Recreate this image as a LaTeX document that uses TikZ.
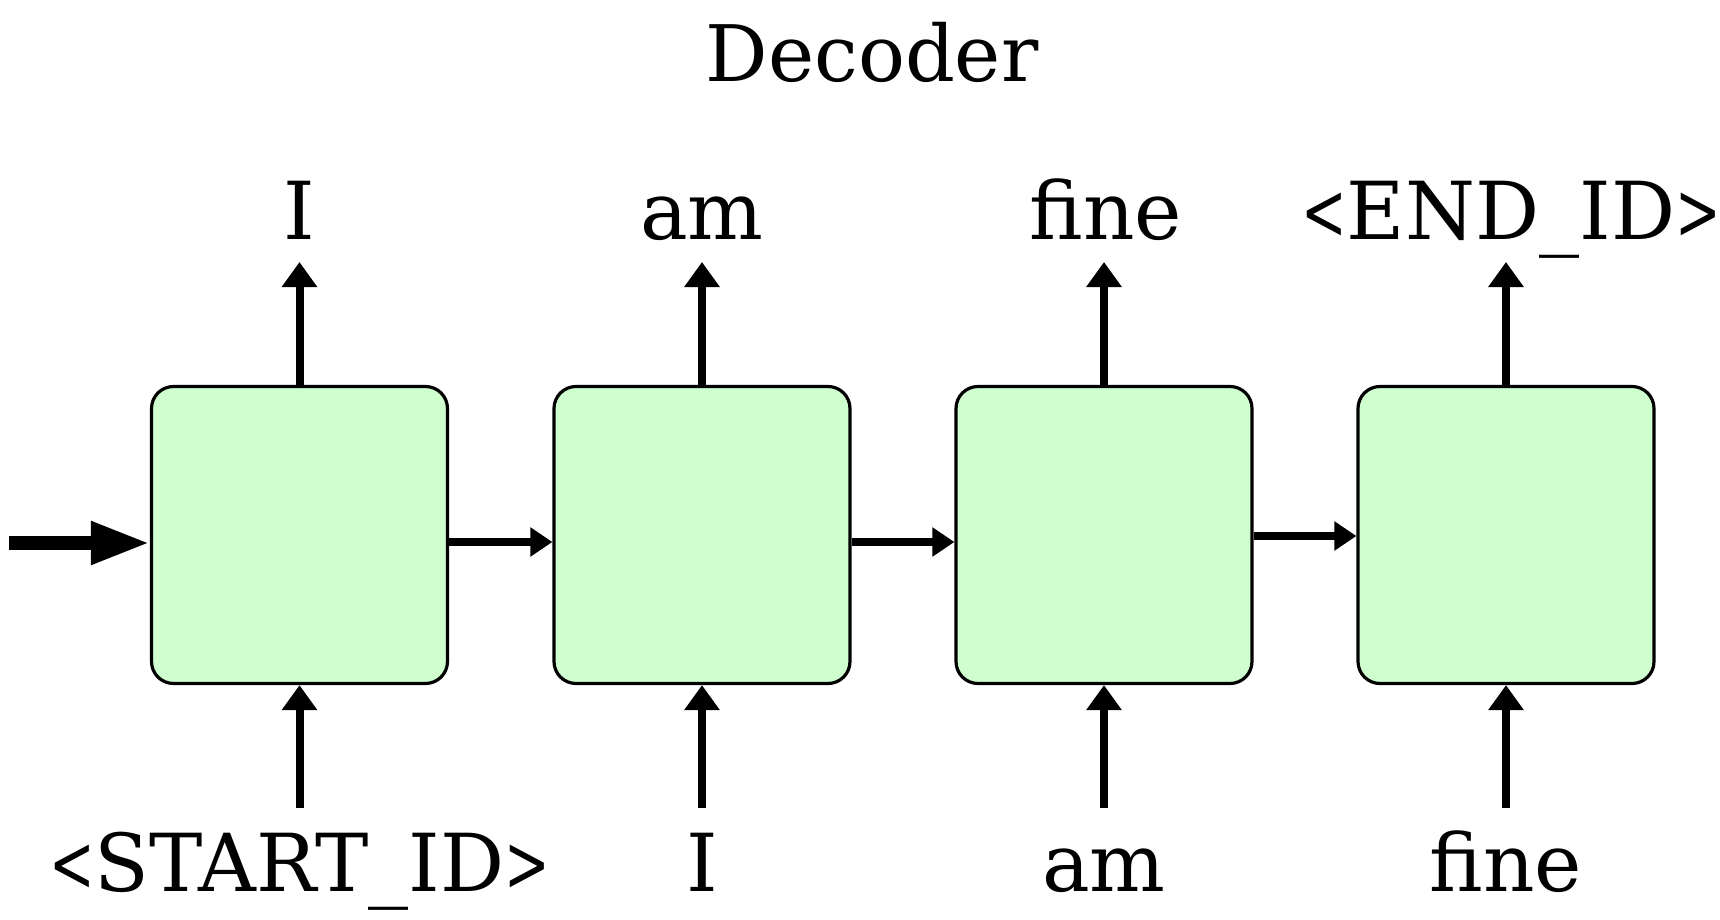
\documentclass[tikz,border=0pt]{standalone}
\usepackage{fontspec}
\usepackage{graphicx}
\setmainfont{DejaVu Serif}
\usetikzlibrary{arrows.meta}
\definecolor{cellgreen}{RGB}{207,255,206}
\newcommand\ltsym{\scalebox{0.68}[1]{<}}
\newcommand\gtsym{\scalebox{0.68}[1]{>}}
\tikzset{
  cell/.style={draw=black, line width=1.6pt, fill=cellgreen, rounded corners=11pt,
    minimum width=148pt, minimum height=148.5pt, inner sep=0pt},
  lbl/.style={font=\fontsize{40}{46}\selectfont, anchor=base, inner sep=0pt},
  titlelbl/.style={font=\fontsize{39}{45}\selectfont, anchor=base, inner sep=0pt},
  vert/.style={line width=4pt, -{Triangle[length=12.5pt,width=17pt]}},
  horiz/.style={line width=3.75pt, -{Triangle[length=11pt,width=14pt]}},
  inarrow/.style={line width=6.8pt, -{Triangle[length=29.5pt,width=20pt]}}
}
\begin{document}
\begin{tikzpicture}[x=0.5pt,y=-0.5pt]
\useasboundingbox (0,0) rectangle (1720,920);
% title
\node[titlelbl] (title) at (872,82) {Decoder};
% cells
\node[cell] (c1) at (299.5,535) {};
\node[cell] (c2) at (702,535) {};
\node[cell] (c3) at (1104,535) {};
\node[cell] (c4) at (1506,535) {};
% top labels
\node[lbl] (o1) at (299.5,239) {I};
\node[lbl] (o2) at (702,239) {am};
\node[lbl] (o3) at (1106,239) {fine};
\node[lbl] (o4) at (1511,239) {\ltsym END\_ID\gtsym};
% bottom labels
\node[lbl] (i1) at (299.5,891) {\ltsym START\_ID\gtsym};
\node[lbl] (i2) at (702,891) {I};
\node[lbl] (i3) at (1104,891) {am};
\node[lbl] (i4) at (1506,891) {fine};
% arrow coordinates
\foreach \n/\x in {1/299.5,2/702,3/1104,4/1506}{
  \coordinate (ot\n) at (\x,262);
  \coordinate (ib\n) at (\x,808);
}
\coordinate (start) at (9,543);
% vertical arrows
\foreach \n in {1,2,3,4}{
  \draw[vert] (c\n.north) -- (ot\n);
  \draw[vert] (ib\n) -- (c\n.south);
}
% horizontal arrows
\draw[inarrow] (start) -- (start -| c1.west);
\draw[horiz] ([yshift=-3.5pt]c1.east) -- ([yshift=-3.5pt]c2.west);
\draw[horiz] ([yshift=-3.5pt]c2.east) -- ([yshift=-3.5pt]c3.west);
\draw[horiz] ([yshift=-0.5pt]c3.east) -- ([yshift=-0.5pt]c4.west);
\end{tikzpicture}
\end{document}
